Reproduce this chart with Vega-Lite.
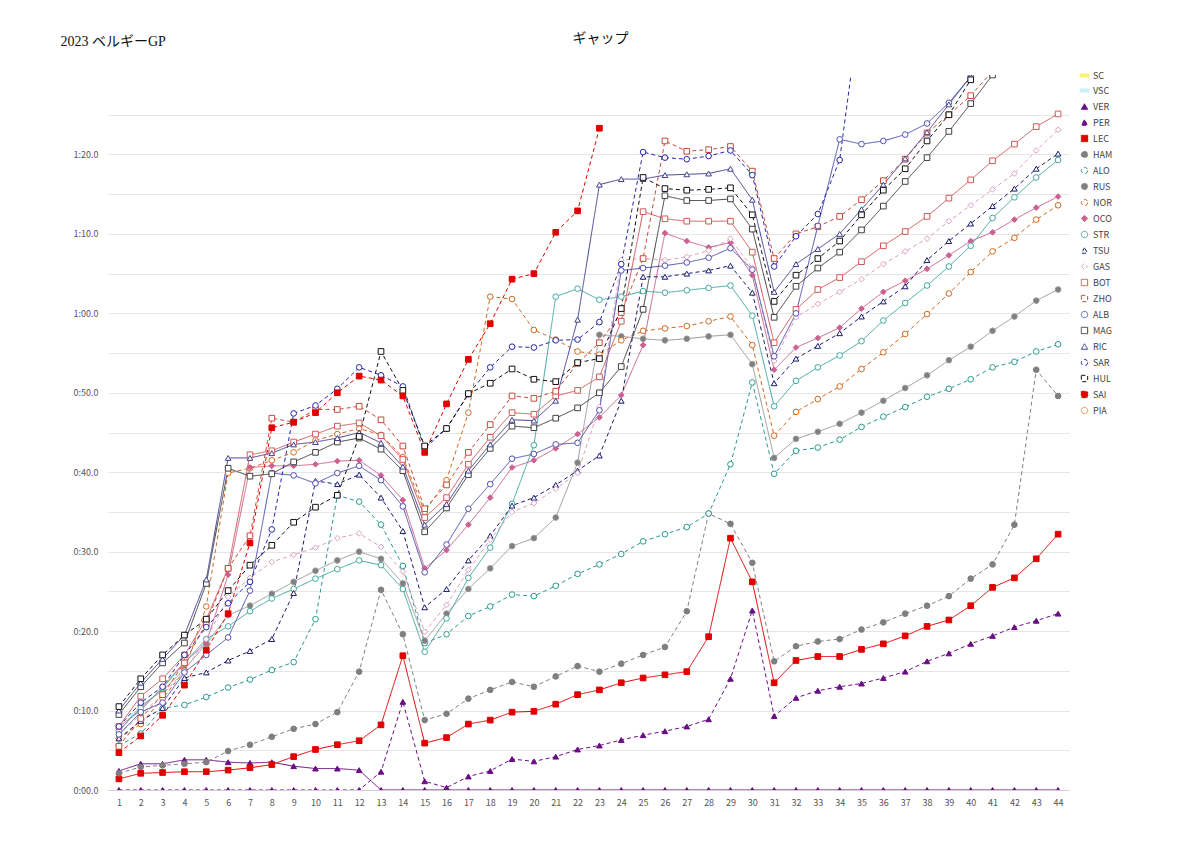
{
  "$schema": "https://vega.github.io/schema/vega-lite/v6.json",
  "autosize": "none",
  "width": 961,
  "height": 715,
  "padding": {"left": 108, "top": 75, "right": 131, "bottom": 59},
  "title": {"text": "ギャップ", "anchor": "middle", "dx": 12, "offset": -12, "font": "Liberation Serif, Noto Sans CJK JP", "fontSize": 14, "fontWeight": "normal", "color": "#111"},
  "config": {
    "view": {"stroke": null},
    "font": "Noto Sans CJK JP",
    "axis": {"labelFontSize": 9, "labelColor": "#555", "domainColor": "#d0d0d0", "tickColor": "#d0d0d0", "gridColor": "#e6e6e6"}
  },
  "datasets": {
    "gap": [
{"d":"VER","l":1,"v":2.4},{"d":"VER","l":2,"v":3.3},{"d":"VER","l":3,"v":3.3},{"d":"VER","l":4,"v":3.8},{"d":"VER","l":5,"v":3.8},{"d":"VER","l":6,"v":3.5},{"d":"VER","l":7,"v":3.4},{"d":"VER","l":8,"v":3.5},{"d":"VER","l":9,"v":3.0},{"d":"VER","l":10,"v":2.7},{"d":"VER","l":11,"v":2.7},{"d":"VER","l":12,"v":2.5},{"d":"VER","l":13,"v":0},{"d":"VER","l":14,"v":0},{"d":"VER","l":15,"v":0},{"d":"VER","l":16,"v":0},{"d":"VER","l":17,"v":0},{"d":"VER","l":18,"v":0},{"d":"VER","l":19,"v":0},{"d":"VER","l":20,"v":0},{"d":"VER","l":21,"v":0},{"d":"VER","l":22,"v":0},{"d":"VER","l":23,"v":0},{"d":"VER","l":24,"v":0},{"d":"VER","l":25,"v":0},{"d":"VER","l":26,"v":0},{"d":"VER","l":27,"v":0},{"d":"VER","l":28,"v":0},{"d":"VER","l":29,"v":0},{"d":"VER","l":30,"v":0},{"d":"VER","l":31,"v":0},{"d":"VER","l":32,"v":0},{"d":"VER","l":33,"v":0},{"d":"VER","l":34,"v":0},{"d":"VER","l":35,"v":0},{"d":"VER","l":36,"v":0},{"d":"VER","l":37,"v":0},{"d":"VER","l":38,"v":0},{"d":"VER","l":39,"v":0},{"d":"VER","l":40,"v":0},{"d":"VER","l":41,"v":0},{"d":"VER","l":42,"v":0},{"d":"VER","l":43,"v":0},{"d":"VER","l":44,"v":0},
{"d":"PER","l":1,"v":0},{"d":"PER","l":2,"v":0},{"d":"PER","l":3,"v":0},{"d":"PER","l":4,"v":0},{"d":"PER","l":5,"v":0},{"d":"PER","l":6,"v":0},{"d":"PER","l":7,"v":0},{"d":"PER","l":8,"v":0},{"d":"PER","l":9,"v":0},{"d":"PER","l":10,"v":0},{"d":"PER","l":11,"v":0},{"d":"PER","l":12,"v":0},{"d":"PER","l":13,"v":2.3},{"d":"PER","l":14,"v":11.1},{"d":"PER","l":15,"v":1.1},{"d":"PER","l":16,"v":0.3},{"d":"PER","l":17,"v":1.7},{"d":"PER","l":18,"v":2.4},{"d":"PER","l":19,"v":3.9},{"d":"PER","l":20,"v":3.6},{"d":"PER","l":21,"v":4.2},{"d":"PER","l":22,"v":5.1},{"d":"PER","l":23,"v":5.6},{"d":"PER","l":24,"v":6.3},{"d":"PER","l":25,"v":6.9},{"d":"PER","l":26,"v":7.4},{"d":"PER","l":27,"v":8.0},{"d":"PER","l":28,"v":8.9},{"d":"PER","l":29,"v":14.0},{"d":"PER","l":30,"v":22.6},{"d":"PER","l":31,"v":9.3},{"d":"PER","l":32,"v":11.6},{"d":"PER","l":33,"v":12.5},{"d":"PER","l":34,"v":13.0},{"d":"PER","l":35,"v":13.4},{"d":"PER","l":36,"v":14.1},{"d":"PER","l":37,"v":14.9},{"d":"PER","l":38,"v":16.2},{"d":"PER","l":39,"v":17.2},{"d":"PER","l":40,"v":18.4},{"d":"PER","l":41,"v":19.4},{"d":"PER","l":42,"v":20.5},{"d":"PER","l":43,"v":21.3},{"d":"PER","l":44,"v":22.2},
{"d":"LEC","l":1,"v":1.4},{"d":"LEC","l":2,"v":2.1},{"d":"LEC","l":3,"v":2.2},{"d":"LEC","l":4,"v":2.3},{"d":"LEC","l":5,"v":2.3},{"d":"LEC","l":6,"v":2.5},{"d":"LEC","l":7,"v":2.8},{"d":"LEC","l":8,"v":3.2},{"d":"LEC","l":9,"v":4.2},{"d":"LEC","l":10,"v":5.1},{"d":"LEC","l":11,"v":5.7},{"d":"LEC","l":12,"v":6.2},{"d":"LEC","l":13,"v":8.2},{"d":"LEC","l":14,"v":16.9},{"d":"LEC","l":15,"v":5.9},{"d":"LEC","l":16,"v":6.6},{"d":"LEC","l":17,"v":8.3},{"d":"LEC","l":18,"v":8.8},{"d":"LEC","l":19,"v":9.8},{"d":"LEC","l":20,"v":9.9},{"d":"LEC","l":21,"v":10.8},{"d":"LEC","l":22,"v":12.0},{"d":"LEC","l":23,"v":12.6},{"d":"LEC","l":24,"v":13.5},{"d":"LEC","l":25,"v":14.1},{"d":"LEC","l":26,"v":14.5},{"d":"LEC","l":27,"v":14.9},{"d":"LEC","l":28,"v":19.3},{"d":"LEC","l":29,"v":31.7},{"d":"LEC","l":30,"v":26.2},{"d":"LEC","l":31,"v":13.5},{"d":"LEC","l":32,"v":16.3},{"d":"LEC","l":33,"v":16.8},{"d":"LEC","l":34,"v":16.8},{"d":"LEC","l":35,"v":17.7},{"d":"LEC","l":36,"v":18.4},{"d":"LEC","l":37,"v":19.4},{"d":"LEC","l":38,"v":20.6},{"d":"LEC","l":39,"v":21.4},{"d":"LEC","l":40,"v":23.2},{"d":"LEC","l":41,"v":25.5},{"d":"LEC","l":42,"v":26.7},{"d":"LEC","l":43,"v":29.1},{"d":"LEC","l":44,"v":32.2},
{"d":"HAM","l":1,"v":2.1},{"d":"HAM","l":2,"v":2.9},{"d":"HAM","l":3,"v":3.1},{"d":"HAM","l":4,"v":3.3},{"d":"HAM","l":5,"v":3.5},{"d":"HAM","l":6,"v":4.9},{"d":"HAM","l":7,"v":5.7},{"d":"HAM","l":8,"v":6.7},{"d":"HAM","l":9,"v":7.7},{"d":"HAM","l":10,"v":8.3},{"d":"HAM","l":11,"v":9.8},{"d":"HAM","l":12,"v":14.9},{"d":"HAM","l":13,"v":25.2},{"d":"HAM","l":14,"v":19.6},{"d":"HAM","l":15,"v":8.8},{"d":"HAM","l":16,"v":9.6},{"d":"HAM","l":17,"v":11.5},{"d":"HAM","l":18,"v":12.6},{"d":"HAM","l":19,"v":13.6},{"d":"HAM","l":20,"v":13.0},{"d":"HAM","l":21,"v":14.3},{"d":"HAM","l":22,"v":15.6},{"d":"HAM","l":23,"v":14.9},{"d":"HAM","l":24,"v":15.9},{"d":"HAM","l":25,"v":17.0},{"d":"HAM","l":26,"v":18.0},{"d":"HAM","l":27,"v":22.5},{"d":"HAM","l":28,"v":34.8},{"d":"HAM","l":29,"v":33.5},{"d":"HAM","l":30,"v":28.6},{"d":"HAM","l":31,"v":16.2},{"d":"HAM","l":32,"v":18.1},{"d":"HAM","l":33,"v":18.7},{"d":"HAM","l":34,"v":19.0},{"d":"HAM","l":35,"v":20.2},{"d":"HAM","l":36,"v":21.1},{"d":"HAM","l":37,"v":22.2},{"d":"HAM","l":38,"v":23.2},{"d":"HAM","l":39,"v":24.4},{"d":"HAM","l":40,"v":26.6},{"d":"HAM","l":41,"v":28.4},{"d":"HAM","l":42,"v":33.4},{"d":"HAM","l":43,"v":52.9},{"d":"HAM","l":44,"v":49.6},
{"d":"ALO","l":1,"v":5.6},{"d":"ALO","l":2,"v":7.1},{"d":"ALO","l":3,"v":10.3},{"d":"ALO","l":4,"v":10.7},{"d":"ALO","l":5,"v":11.7},{"d":"ALO","l":6,"v":12.9},{"d":"ALO","l":7,"v":13.9},{"d":"ALO","l":8,"v":15.1},{"d":"ALO","l":9,"v":16.1},{"d":"ALO","l":10,"v":21.5},{"d":"ALO","l":11,"v":37.1},{"d":"ALO","l":12,"v":36.3},{"d":"ALO","l":13,"v":33.4},{"d":"ALO","l":14,"v":28.2},{"d":"ALO","l":15,"v":18.5},{"d":"ALO","l":16,"v":19.6},{"d":"ALO","l":17,"v":21.9},{"d":"ALO","l":18,"v":23.1},{"d":"ALO","l":19,"v":24.6},{"d":"ALO","l":20,"v":24.4},{"d":"ALO","l":21,"v":25.7},{"d":"ALO","l":22,"v":27.2},{"d":"ALO","l":23,"v":28.4},{"d":"ALO","l":24,"v":29.7},{"d":"ALO","l":25,"v":31.3},{"d":"ALO","l":26,"v":32.2},{"d":"ALO","l":27,"v":33.1},{"d":"ALO","l":28,"v":34.8},{"d":"ALO","l":29,"v":41.0},{"d":"ALO","l":30,"v":51.3},{"d":"ALO","l":31,"v":39.8},{"d":"ALO","l":32,"v":42.7},{"d":"ALO","l":33,"v":43.1},{"d":"ALO","l":34,"v":44.1},{"d":"ALO","l":35,"v":45.7},{"d":"ALO","l":36,"v":47.0},{"d":"ALO","l":37,"v":48.2},{"d":"ALO","l":38,"v":49.5},{"d":"ALO","l":39,"v":50.5},{"d":"ALO","l":40,"v":51.7},{"d":"ALO","l":41,"v":53.2},{"d":"ALO","l":42,"v":53.9},{"d":"ALO","l":43,"v":55.2},{"d":"ALO","l":44,"v":56.1},
{"d":"RUS","l":1,"v":7.4},{"d":"RUS","l":2,"v":10.6},{"d":"RUS","l":3,"v":12.5},{"d":"RUS","l":4,"v":15.2},{"d":"RUS","l":5,"v":18.4},{"d":"RUS","l":6,"v":22.0},{"d":"RUS","l":7,"v":23.2},{"d":"RUS","l":8,"v":24.7},{"d":"RUS","l":9,"v":26.2},{"d":"RUS","l":10,"v":27.6},{"d":"RUS","l":11,"v":28.9},{"d":"RUS","l":12,"v":30.0},{"d":"RUS","l":13,"v":29.1},{"d":"RUS","l":14,"v":26.0},{"d":"RUS","l":15,"v":18.8},{"d":"RUS","l":16,"v":22.2},{"d":"RUS","l":17,"v":25.3},{"d":"RUS","l":18,"v":27.9},{"d":"RUS","l":19,"v":30.7},{"d":"RUS","l":20,"v":31.7},{"d":"RUS","l":21,"v":34.3},{"d":"RUS","l":22,"v":41.2},{"d":"RUS","l":23,"v":57.3},{"d":"RUS","l":24,"v":57.1},{"d":"RUS","l":25,"v":56.8},{"d":"RUS","l":26,"v":56.6},{"d":"RUS","l":27,"v":56.8},{"d":"RUS","l":28,"v":57.1},{"d":"RUS","l":29,"v":57.3},{"d":"RUS","l":30,"v":53.6},{"d":"RUS","l":31,"v":41.8},{"d":"RUS","l":32,"v":44.2},{"d":"RUS","l":33,"v":45.1},{"d":"RUS","l":34,"v":46.1},{"d":"RUS","l":35,"v":47.5},{"d":"RUS","l":36,"v":49.0},{"d":"RUS","l":37,"v":50.6},{"d":"RUS","l":38,"v":52.2},{"d":"RUS","l":39,"v":54.1},{"d":"RUS","l":40,"v":55.8},{"d":"RUS","l":41,"v":57.8},{"d":"RUS","l":42,"v":59.6},{"d":"RUS","l":43,"v":61.6},{"d":"RUS","l":44,"v":63.0},
{"d":"NOR","l":1,"v":6.5},{"d":"NOR","l":2,"v":8.3},{"d":"NOR","l":3,"v":11.5},{"d":"NOR","l":4,"v":15.0},{"d":"NOR","l":5,"v":23.1},{"d":"NOR","l":6,"v":39.9},{"d":"NOR","l":7,"v":40.5},{"d":"NOR","l":8,"v":41.5},{"d":"NOR","l":9,"v":42.5},{"d":"NOR","l":10,"v":44.0},{"d":"NOR","l":11,"v":44.8},{"d":"NOR","l":12,"v":45.5},{"d":"NOR","l":13,"v":44.7},{"d":"NOR","l":14,"v":41.9},{"d":"NOR","l":15,"v":35.0},{"d":"NOR","l":16,"v":39.0},{"d":"NOR","l":17,"v":47.5},{"d":"NOR","l":18,"v":62.1},{"d":"NOR","l":19,"v":61.8},{"d":"NOR","l":20,"v":57.9},{"d":"NOR","l":21,"v":56.7},{"d":"NOR","l":22,"v":55.2},{"d":"NOR","l":23,"v":54.8},{"d":"NOR","l":24,"v":56.6},{"d":"NOR","l":25,"v":57.8},{"d":"NOR","l":26,"v":58.1},{"d":"NOR","l":27,"v":58.4},{"d":"NOR","l":28,"v":59.0},{"d":"NOR","l":29,"v":59.6},{"d":"NOR","l":30,"v":56.0},{"d":"NOR","l":31,"v":44.6},{"d":"NOR","l":32,"v":47.6},{"d":"NOR","l":33,"v":49.2},{"d":"NOR","l":34,"v":50.8},{"d":"NOR","l":35,"v":53.0},{"d":"NOR","l":36,"v":55.1},{"d":"NOR","l":37,"v":57.4},{"d":"NOR","l":38,"v":59.9},{"d":"NOR","l":39,"v":62.5},{"d":"NOR","l":40,"v":65.2},{"d":"NOR","l":41,"v":67.8},{"d":"NOR","l":42,"v":69.5},{"d":"NOR","l":43,"v":71.8},{"d":"NOR","l":44,"v":73.6},
{"d":"OCO","l":1,"v":8.0},{"d":"OCO","l":2,"v":10.0},{"d":"OCO","l":3,"v":13.0},{"d":"OCO","l":4,"v":16.1},{"d":"OCO","l":5,"v":18.5},{"d":"OCO","l":6,"v":27.1},{"d":"OCO","l":7,"v":40.6},{"d":"OCO","l":8,"v":40.8},{"d":"OCO","l":9,"v":40.8},{"d":"OCO","l":10,"v":41.0},{"d":"OCO","l":11,"v":41.4},{"d":"OCO","l":12,"v":41.5},{"d":"OCO","l":13,"v":39.6},{"d":"OCO","l":14,"v":36.5},{"d":"OCO","l":15,"v":27.9},{"d":"OCO","l":16,"v":30.2},{"d":"OCO","l":17,"v":33.4},{"d":"OCO","l":18,"v":36.8},{"d":"OCO","l":19,"v":40.6},{"d":"OCO","l":20,"v":41.5},{"d":"OCO","l":21,"v":43.0},{"d":"OCO","l":22,"v":44.8},{"d":"OCO","l":23,"v":46.9},{"d":"OCO","l":24,"v":49.7},{"d":"OCO","l":25,"v":56.0},{"d":"OCO","l":26,"v":70.1},{"d":"OCO","l":27,"v":69.1},{"d":"OCO","l":28,"v":68.3},{"d":"OCO","l":29,"v":68.9},{"d":"OCO","l":30,"v":64.8},{"d":"OCO","l":31,"v":52.9},{"d":"OCO","l":32,"v":55.7},{"d":"OCO","l":33,"v":56.9},{"d":"OCO","l":34,"v":58.2},{"d":"OCO","l":35,"v":60.6},{"d":"OCO","l":36,"v":62.7},{"d":"OCO","l":37,"v":64.1},{"d":"OCO","l":38,"v":65.6},{"d":"OCO","l":39,"v":67.3},{"d":"OCO","l":40,"v":69.1},{"d":"OCO","l":41,"v":70.2},{"d":"OCO","l":42,"v":71.8},{"d":"OCO","l":43,"v":73.3},{"d":"OCO","l":44,"v":74.7},
{"d":"STR","l":1,"v":7.5},{"d":"STR","l":2,"v":10.3},{"d":"STR","l":3,"v":12.8},{"d":"STR","l":4,"v":16.0},{"d":"STR","l":5,"v":19.0},{"d":"STR","l":6,"v":20.6},{"d":"STR","l":7,"v":22.5},{"d":"STR","l":8,"v":24.1},{"d":"STR","l":9,"v":25.3},{"d":"STR","l":10,"v":26.6},{"d":"STR","l":11,"v":27.8},{"d":"STR","l":12,"v":28.9},{"d":"STR","l":13,"v":28.3},{"d":"STR","l":14,"v":25.3},{"d":"STR","l":15,"v":17.4},{"d":"STR","l":16,"v":21.6},{"d":"STR","l":17,"v":26.7},{"d":"STR","l":18,"v":30.5},{"d":"STR","l":19,"v":36.0},{"d":"STR","l":20,"v":43.4},{"d":"STR","l":21,"v":62.1},{"d":"STR","l":22,"v":63.1},{"d":"STR","l":23,"v":61.7},{"d":"STR","l":24,"v":62.1},{"d":"STR","l":25,"v":62.8},{"d":"STR","l":26,"v":62.6},{"d":"STR","l":27,"v":62.9},{"d":"STR","l":28,"v":63.2},{"d":"STR","l":29,"v":63.5},{"d":"STR","l":30,"v":59.7},{"d":"STR","l":31,"v":48.3},{"d":"STR","l":32,"v":51.5},{"d":"STR","l":33,"v":53.2},{"d":"STR","l":34,"v":54.7},{"d":"STR","l":35,"v":56.5},{"d":"STR","l":36,"v":59.1},{"d":"STR","l":37,"v":61.3},{"d":"STR","l":38,"v":63.5},{"d":"STR","l":39,"v":65.9},{"d":"STR","l":40,"v":68.5},{"d":"STR","l":41,"v":72.0},{"d":"STR","l":42,"v":74.6},{"d":"STR","l":43,"v":77.1},{"d":"STR","l":44,"v":79.3},
{"d":"TSU","l":1,"v":6.5},{"d":"TSU","l":2,"v":8.7},{"d":"TSU","l":3,"v":10.3},{"d":"TSU","l":4,"v":14.1},{"d":"TSU","l":5,"v":14.8},{"d":"TSU","l":6,"v":16.3},{"d":"TSU","l":7,"v":17.5},{"d":"TSU","l":8,"v":19.0},{"d":"TSU","l":9,"v":24.8},{"d":"TSU","l":10,"v":38.9},{"d":"TSU","l":11,"v":38.5},{"d":"TSU","l":12,"v":39.7},{"d":"TSU","l":13,"v":36.8},{"d":"TSU","l":14,"v":32.6},{"d":"TSU","l":15,"v":23.0},{"d":"TSU","l":16,"v":25.3},{"d":"TSU","l":17,"v":28.9},{"d":"TSU","l":18,"v":32.0},{"d":"TSU","l":19,"v":35.8},{"d":"TSU","l":20,"v":36.8},{"d":"TSU","l":21,"v":38.4},{"d":"TSU","l":22,"v":40.2},{"d":"TSU","l":23,"v":42.1},{"d":"TSU","l":24,"v":49.0},{"d":"TSU","l":25,"v":64.6},{"d":"TSU","l":26,"v":64.6},{"d":"TSU","l":27,"v":65.0},{"d":"TSU","l":28,"v":65.4},{"d":"TSU","l":29,"v":66.0},{"d":"TSU","l":30,"v":62.6},{"d":"TSU","l":31,"v":51.2},{"d":"TSU","l":32,"v":54.3},{"d":"TSU","l":33,"v":55.9},{"d":"TSU","l":34,"v":57.5},{"d":"TSU","l":35,"v":59.6},{"d":"TSU","l":36,"v":61.5},{"d":"TSU","l":37,"v":63.4},{"d":"TSU","l":38,"v":66.7},{"d":"TSU","l":39,"v":69.1},{"d":"TSU","l":40,"v":71.3},{"d":"TSU","l":41,"v":73.5},{"d":"TSU","l":42,"v":75.7},{"d":"TSU","l":43,"v":78.2},{"d":"TSU","l":44,"v":80.1},
{"d":"GAS","l":1,"v":7.0},{"d":"GAS","l":2,"v":9.5},{"d":"GAS","l":3,"v":12.0},{"d":"GAS","l":4,"v":15.0},{"d":"GAS","l":5,"v":19.0},{"d":"GAS","l":6,"v":24.3},{"d":"GAS","l":7,"v":26.7},{"d":"GAS","l":8,"v":28.7},{"d":"GAS","l":9,"v":29.6},{"d":"GAS","l":10,"v":30.5},{"d":"GAS","l":11,"v":31.7},{"d":"GAS","l":12,"v":32.3},{"d":"GAS","l":13,"v":30.6},{"d":"GAS","l":14,"v":27.5},{"d":"GAS","l":15,"v":19.9},{"d":"GAS","l":16,"v":23.3},{"d":"GAS","l":17,"v":27.7},{"d":"GAS","l":18,"v":31.5},{"d":"GAS","l":19,"v":35.0},{"d":"GAS","l":20,"v":36.1},{"d":"GAS","l":21,"v":37.9},{"d":"GAS","l":22,"v":39.9},{"d":"GAS","l":23,"v":48.2},{"d":"GAS","l":24,"v":66.7},{"d":"GAS","l":25,"v":66.9},{"d":"GAS","l":26,"v":66.7},{"d":"GAS","l":27,"v":67.1},{"d":"GAS","l":28,"v":67.9},{"d":"GAS","l":29,"v":69.4},{"d":"GAS","l":30,"v":65.7},{"d":"GAS","l":31,"v":54.0},{"d":"GAS","l":32,"v":59.5},{"d":"GAS","l":33,"v":61.2},{"d":"GAS","l":34,"v":62.7},{"d":"GAS","l":35,"v":64.3},{"d":"GAS","l":36,"v":66.2},{"d":"GAS","l":37,"v":67.8},{"d":"GAS","l":38,"v":69.4},{"d":"GAS","l":39,"v":71.6},{"d":"GAS","l":40,"v":73.6},{"d":"GAS","l":41,"v":75.6},{"d":"GAS","l":42,"v":77.6},{"d":"GAS","l":43,"v":80.5},{"d":"GAS","l":44,"v":83.1},
{"d":"BOT","l":1,"v":8.0},{"d":"BOT","l":2,"v":11.8},{"d":"BOT","l":3,"v":14.0},{"d":"BOT","l":4,"v":17.0},{"d":"BOT","l":5,"v":21.5},{"d":"BOT","l":6,"v":27.9},{"d":"BOT","l":7,"v":42.2},{"d":"BOT","l":8,"v":42.7},{"d":"BOT","l":9,"v":43.8},{"d":"BOT","l":10,"v":44.8},{"d":"BOT","l":11,"v":45.8},{"d":"BOT","l":12,"v":46.2},{"d":"BOT","l":13,"v":44.6},{"d":"BOT","l":14,"v":41.6},{"d":"BOT","l":15,"v":34.3},{"d":"BOT","l":16,"v":36.8},{"d":"BOT","l":17,"v":41.0},{"d":"BOT","l":18,"v":44.4},{"d":"BOT","l":19,"v":47.5},{"d":"BOT","l":20,"v":47.3},{"d":"BOT","l":21,"v":49.6},{"d":"BOT","l":22,"v":50.3},{"d":"BOT","l":23,"v":52.0},{"d":"BOT","l":24,"v":59.0},{"d":"BOT","l":25,"v":72.8},{"d":"BOT","l":26,"v":71.9},{"d":"BOT","l":27,"v":71.6},{"d":"BOT","l":28,"v":71.6},{"d":"BOT","l":29,"v":71.6},{"d":"BOT","l":30,"v":67.7},{"d":"BOT","l":31,"v":56.3},{"d":"BOT","l":32,"v":60.5},{"d":"BOT","l":33,"v":63.0},{"d":"BOT","l":34,"v":64.5},{"d":"BOT","l":35,"v":66.5},{"d":"BOT","l":36,"v":68.5},{"d":"BOT","l":37,"v":70.3},{"d":"BOT","l":38,"v":72.2},{"d":"BOT","l":39,"v":74.5},{"d":"BOT","l":40,"v":76.8},{"d":"BOT","l":41,"v":79.2},{"d":"BOT","l":42,"v":81.3},{"d":"BOT","l":43,"v":83.5},{"d":"BOT","l":44,"v":85.1},
{"d":"ZHO","l":1,"v":5.5},{"d":"ZHO","l":2,"v":9.0},{"d":"ZHO","l":3,"v":12.0},{"d":"ZHO","l":4,"v":16.0},{"d":"ZHO","l":5,"v":21.0},{"d":"ZHO","l":6,"v":27.9},{"d":"ZHO","l":7,"v":32.0},{"d":"ZHO","l":8,"v":46.8},{"d":"ZHO","l":9,"v":46.3},{"d":"ZHO","l":10,"v":47.9},{"d":"ZHO","l":11,"v":47.9},{"d":"ZHO","l":12,"v":48.3},{"d":"ZHO","l":13,"v":46.6},{"d":"ZHO","l":14,"v":43.3},{"d":"ZHO","l":15,"v":35.4},{"d":"ZHO","l":16,"v":38.4},{"d":"ZHO","l":17,"v":42.5},{"d":"ZHO","l":18,"v":46.0},{"d":"ZHO","l":19,"v":49.6},{"d":"ZHO","l":20,"v":49.3},{"d":"ZHO","l":21,"v":50.2},{"d":"ZHO","l":22,"v":53.7},{"d":"ZHO","l":23,"v":56.3},{"d":"ZHO","l":24,"v":60.1},{"d":"ZHO","l":25,"v":66.9},{"d":"ZHO","l":26,"v":81.7},{"d":"ZHO","l":27,"v":80.4},{"d":"ZHO","l":28,"v":80.6},{"d":"ZHO","l":29,"v":81.0},{"d":"ZHO","l":30,"v":77.9},{"d":"ZHO","l":31,"v":66.9},{"d":"ZHO","l":32,"v":70.0},{"d":"ZHO","l":33,"v":70.9},{"d":"ZHO","l":34,"v":72.2},{"d":"ZHO","l":35,"v":74.3},{"d":"ZHO","l":36,"v":76.7},{"d":"ZHO","l":37,"v":79.4},{"d":"ZHO","l":38,"v":82.7},{"d":"ZHO","l":39,"v":85.0},{"d":"ZHO","l":40,"v":87.4},{"d":"ZHO","l":41,"v":90.5},{"d":"ZHO","l":42,"v":93},{"d":"ZHO","l":43,"v":95},{"d":"ZHO","l":44,"v":97},
{"d":"ALB","l":1,"v":7.0},{"d":"ALB","l":2,"v":9.8},{"d":"ALB","l":3,"v":11.0},{"d":"ALB","l":4,"v":14.8},{"d":"ALB","l":5,"v":17.0},{"d":"ALB","l":6,"v":19.2},{"d":"ALB","l":7,"v":25.1},{"d":"ALB","l":8,"v":39.9},{"d":"ALB","l":9,"v":39.6},{"d":"ALB","l":10,"v":38.6},{"d":"ALB","l":11,"v":39.9},{"d":"ALB","l":12,"v":40.8},{"d":"ALB","l":13,"v":39.0},{"d":"ALB","l":14,"v":35.7},{"d":"ALB","l":15,"v":27.4},{"d":"ALB","l":16,"v":30.9},{"d":"ALB","l":17,"v":35.4},{"d":"ALB","l":18,"v":38.5},{"d":"ALB","l":19,"v":41.7},{"d":"ALB","l":20,"v":42.3},{"d":"ALB","l":21,"v":43.5},{"d":"ALB","l":22,"v":43.7},{"d":"ALB","l":23,"v":47.8},{"d":"ALB","l":24,"v":65.4},{"d":"ALB","l":25,"v":65.7},{"d":"ALB","l":26,"v":66.0},{"d":"ALB","l":27,"v":66.4},{"d":"ALB","l":28,"v":67.0},{"d":"ALB","l":29,"v":68.2},{"d":"ALB","l":30,"v":65.5},{"d":"ALB","l":31,"v":54.6},{"d":"ALB","l":32,"v":60.0},{"d":"ALB","l":33,"v":71.0},{"d":"ALB","l":34,"v":81.9},{"d":"ALB","l":35,"v":81.3},{"d":"ALB","l":36,"v":81.7},{"d":"ALB","l":37,"v":82.5},{"d":"ALB","l":38,"v":83.9},{"d":"ALB","l":39,"v":86.5},{"d":"ALB","l":40,"v":89.8},{"d":"ALB","l":41,"v":93},{"d":"ALB","l":42,"v":96},{"d":"ALB","l":43,"v":99},{"d":"ALB","l":44,"v":102},
{"d":"MAG","l":1,"v":9.5},{"d":"MAG","l":2,"v":13.0},{"d":"MAG","l":3,"v":16.0},{"d":"MAG","l":4,"v":18.5},{"d":"MAG","l":5,"v":26.0},{"d":"MAG","l":6,"v":40.5},{"d":"MAG","l":7,"v":39.5},{"d":"MAG","l":8,"v":39.8},{"d":"MAG","l":9,"v":41.3},{"d":"MAG","l":10,"v":42.5},{"d":"MAG","l":11,"v":43.8},{"d":"MAG","l":12,"v":44.3},{"d":"MAG","l":13,"v":42.9},{"d":"MAG","l":14,"v":40.2},{"d":"MAG","l":15,"v":32.5},{"d":"MAG","l":16,"v":35.5},{"d":"MAG","l":17,"v":39.7},{"d":"MAG","l":18,"v":43.0},{"d":"MAG","l":19,"v":45.8},{"d":"MAG","l":20,"v":45.6},{"d":"MAG","l":21,"v":46.8},{"d":"MAG","l":22,"v":48.1},{"d":"MAG","l":23,"v":50.0},{"d":"MAG","l":24,"v":53.3},{"d":"MAG","l":25,"v":60.5},{"d":"MAG","l":26,"v":74.8},{"d":"MAG","l":27,"v":74.2},{"d":"MAG","l":28,"v":74.2},{"d":"MAG","l":29,"v":74.4},{"d":"MAG","l":30,"v":70.6},{"d":"MAG","l":31,"v":59.5},{"d":"MAG","l":32,"v":63.4},{"d":"MAG","l":33,"v":65.7},{"d":"MAG","l":34,"v":67.7},{"d":"MAG","l":35,"v":70.5},{"d":"MAG","l":36,"v":73.5},{"d":"MAG","l":37,"v":76.6},{"d":"MAG","l":38,"v":79.6},{"d":"MAG","l":39,"v":82.9},{"d":"MAG","l":40,"v":86.4},{"d":"MAG","l":41,"v":90.0},{"d":"MAG","l":42,"v":93},{"d":"MAG","l":43,"v":96},{"d":"MAG","l":44,"v":99},
{"d":"RIC","l":1,"v":10.0},{"d":"RIC","l":2,"v":13.5},{"d":"RIC","l":3,"v":16.5},{"d":"RIC","l":4,"v":19.5},{"d":"RIC","l":5,"v":26.5},{"d":"RIC","l":6,"v":41.8},{"d":"RIC","l":7,"v":41.8},{"d":"RIC","l":8,"v":42.4},{"d":"RIC","l":9,"v":43.5},{"d":"RIC","l":10,"v":43.8},{"d":"RIC","l":11,"v":44.3},{"d":"RIC","l":12,"v":45.0},{"d":"RIC","l":13,"v":43.7},{"d":"RIC","l":14,"v":40.7},{"d":"RIC","l":15,"v":33.4},{"d":"RIC","l":16,"v":36.0},{"d":"RIC","l":17,"v":40.2},{"d":"RIC","l":18,"v":43.5},{"d":"RIC","l":19,"v":46.6},{"d":"RIC","l":20,"v":46.5},{"d":"RIC","l":21,"v":49.0},{"d":"RIC","l":22,"v":59.2},{"d":"RIC","l":23,"v":76.2},{"d":"RIC","l":24,"v":76.9},{"d":"RIC","l":25,"v":76.9},{"d":"RIC","l":26,"v":77.4},{"d":"RIC","l":27,"v":77.5},{"d":"RIC","l":28,"v":77.6},{"d":"RIC","l":29,"v":78.2},{"d":"RIC","l":30,"v":74.3},{"d":"RIC","l":31,"v":62.7},{"d":"RIC","l":32,"v":66.2},{"d":"RIC","l":33,"v":68.1},{"d":"RIC","l":34,"v":70.0},{"d":"RIC","l":35,"v":73.1},{"d":"RIC","l":36,"v":76.2},{"d":"RIC","l":37,"v":79.5},{"d":"RIC","l":38,"v":82.8},{"d":"RIC","l":39,"v":86.3},{"d":"RIC","l":40,"v":89.8},{"d":"RIC","l":41,"v":93},{"d":"RIC","l":42,"v":96},{"d":"RIC","l":43,"v":99},{"d":"RIC","l":44,"v":102},
{"d":"SAR","l":1,"v":8.0},{"d":"SAR","l":2,"v":11.0},{"d":"SAR","l":3,"v":13.0},{"d":"SAR","l":4,"v":17.0},{"d":"SAR","l":5,"v":20.5},{"d":"SAR","l":6,"v":23.5},{"d":"SAR","l":7,"v":26.2},{"d":"SAR","l":8,"v":32.8},{"d":"SAR","l":9,"v":47.4},{"d":"SAR","l":10,"v":48.4},{"d":"SAR","l":11,"v":50.5},{"d":"SAR","l":12,"v":53.2},{"d":"SAR","l":13,"v":52.2},{"d":"SAR","l":14,"v":50.8},{"d":"SAR","l":15,"v":43.0},{"d":"SAR","l":16,"v":45.5},{"d":"SAR","l":17,"v":49.8},{"d":"SAR","l":18,"v":53.2},{"d":"SAR","l":19,"v":55.8},{"d":"SAR","l":20,"v":55.7},{"d":"SAR","l":21,"v":56.6},{"d":"SAR","l":22,"v":56.7},{"d":"SAR","l":23,"v":58.9},{"d":"SAR","l":24,"v":66.2},{"d":"SAR","l":25,"v":80.3},{"d":"SAR","l":26,"v":79.6},{"d":"SAR","l":27,"v":79.4},{"d":"SAR","l":28,"v":79.8},{"d":"SAR","l":29,"v":80.5},{"d":"SAR","l":30,"v":77.4},{"d":"SAR","l":31,"v":65.9},{"d":"SAR","l":32,"v":69.7},{"d":"SAR","l":33,"v":72.5},{"d":"SAR","l":34,"v":79.3},{"d":"SAR","l":35,"v":100},
{"d":"HUL","l":1,"v":10.5},{"d":"HUL","l":2,"v":14.0},{"d":"HUL","l":3,"v":17.0},{"d":"HUL","l":4,"v":19.5},{"d":"HUL","l":5,"v":21.5},{"d":"HUL","l":6,"v":25.1},{"d":"HUL","l":7,"v":28.3},{"d":"HUL","l":8,"v":30.8},{"d":"HUL","l":9,"v":33.7},{"d":"HUL","l":10,"v":35.6},{"d":"HUL","l":11,"v":37.1},{"d":"HUL","l":12,"v":44.5},{"d":"HUL","l":13,"v":55.2},{"d":"HUL","l":14,"v":50.3},{"d":"HUL","l":15,"v":43.3},{"d":"HUL","l":16,"v":45.5},{"d":"HUL","l":17,"v":49.9},{"d":"HUL","l":18,"v":51.2},{"d":"HUL","l":19,"v":53.0},{"d":"HUL","l":20,"v":51.7},{"d":"HUL","l":21,"v":51.4},{"d":"HUL","l":22,"v":53.8},{"d":"HUL","l":23,"v":54.3},{"d":"HUL","l":24,"v":60.6},{"d":"HUL","l":25,"v":77.1},{"d":"HUL","l":26,"v":75.7},{"d":"HUL","l":27,"v":75.5},{"d":"HUL","l":28,"v":75.6},{"d":"HUL","l":29,"v":75.8},{"d":"HUL","l":30,"v":72.4},{"d":"HUL","l":31,"v":61.5},{"d":"HUL","l":32,"v":64.8},{"d":"HUL","l":33,"v":66.9},{"d":"HUL","l":34,"v":69.1},{"d":"HUL","l":35,"v":72.4},{"d":"HUL","l":36,"v":75.5},{"d":"HUL","l":37,"v":78.2},{"d":"HUL","l":38,"v":81.7},{"d":"HUL","l":39,"v":85.0},{"d":"HUL","l":40,"v":89.4},{"d":"HUL","l":41,"v":93},{"d":"HUL","l":42,"v":96},{"d":"HUL","l":43,"v":99},{"d":"HUL","l":44,"v":102},
{"d":"SAI","l":1,"v":4.7},{"d":"SAI","l":2,"v":6.8},{"d":"SAI","l":3,"v":9.4},{"d":"SAI","l":4,"v":13.2},{"d":"SAI","l":5,"v":17.6},{"d":"SAI","l":6,"v":22.2},{"d":"SAI","l":7,"v":31.1},{"d":"SAI","l":8,"v":45.6},{"d":"SAI","l":9,"v":46.3},{"d":"SAI","l":10,"v":47.5},{"d":"SAI","l":11,"v":50.0},{"d":"SAI","l":12,"v":52.1},{"d":"SAI","l":13,"v":51.6},{"d":"SAI","l":14,"v":49.6},{"d":"SAI","l":15,"v":42.5},{"d":"SAI","l":16,"v":48.6},{"d":"SAI","l":17,"v":54.2},{"d":"SAI","l":18,"v":58.7},{"d":"SAI","l":19,"v":64.3},{"d":"SAI","l":20,"v":65.0},{"d":"SAI","l":21,"v":70.2},{"d":"SAI","l":22,"v":72.9},{"d":"SAI","l":23,"v":83.3}
    ]
  },
  "data": {"name": "gap"},
  "layer": [
    {
      "mark": {"type": "line", "strokeWidth": 1, "clip": true},
      "encoding": {
        "x": {"field": "l", "type": "ordinal", "scale": {"type": "point", "padding": 0.5, "domain": [1,2,3,4,5,6,7,8,9,10,11,12,13,14,15,16,17,18,19,20,21,22,23,24,25,26,27,28,29,30,31,32,33,34,35,36,37,38,39,40,41,42,43,44]}, "title": null, "axis": {"labelAngle": 0, "ticks": false, "labelPadding": 8}},
        "y": {"field": "v", "type": "quantitative", "scale": {"domain": [0, 90], "nice": false},
          "title": "2023 ベルギーGP",
          "axis": {"values": [0,5,10,15,20,25,30,35,40,45,50,55,60,65,70,75,80,85], "domain": false, "ticks": false, "labelPadding": 10,
            "titleAngle": 0, "titleX": -48, "titleY": -34, "titleAlign": "left", "titleBaseline": "middle", "titleFont": "Liberation Serif, Noto Sans CJK JP", "titleFontSize": 14, "titleFontWeight": "normal", "titleColor": "#111",
            "labelExpr": "datum.value % 10 != 0 ? '' : floor(datum.value/60) + ':' + (datum.value % 60 < 10 ? '0' : '') + format(datum.value % 60, '.1f')"}},
        "color": {"field": "d", "type": "nominal",
          "scale": {
            "domain": ["SC","VSC","VER","PER","LEC","HAM","ALO","RUS","NOR","OCO","STR","TSU","GAS","BOT","ZHO","ALB","MAG","RIC","SAR","HUL","SAI","PIA"],
            "range": ["#fff176","#cdeef2","#6a0d83","#6a0d83","#e00000","#7f7f7f","#2a9990","#9a9a9a","#d2691e","#cc6090","#40a8a0","#1a1a6e","#dba0c0","#d05858","#c84a3a","#5050b0","#404040","#404090","#2525a5","#111111","#e00000","#e09050"]
          },
          "legend": {"title": null, "orient": "none", "legendX": 972, "legendY": -4, "labelFontSize": 9, "labelColor": "#444", "rowPadding": 5, "symbolSize": 40, "symbolStrokeWidth": 1}},
        "strokeDash": {"field": "d", "type": "nominal",
          "scale": {
            "domain": ["SC","VSC","VER","PER","LEC","HAM","ALO","RUS","NOR","OCO","STR","TSU","GAS","BOT","ZHO","ALB","MAG","RIC","SAR","HUL","SAI","PIA"],
            "range": [[1,0],[1,0],[1,0],[4,3],[1,0],[4,3],[4,3],[1,0],[4,3],[1,0],[1,0],[4,3],[4,3],[1,0],[4,3],[1,0],[1,0],[1,0],[4,3],[4,3],[4,3],[1,0]]
          }, "legend": null}
      }
    },
    {
      "mark": {"type": "point", "size": 32, "strokeWidth": 1, "opacity": 1, "clip": true},
      "encoding": {
        "x": {"field": "l", "type": "ordinal"},
        "y": {"field": "v", "type": "quantitative"},
        "color": {"field": "d", "type": "nominal"},
        "shape": {"field": "d", "type": "nominal",
          "scale": {
            "domain": ["SC","VSC","VER","PER","LEC","HAM","ALO","RUS","NOR","OCO","STR","TSU","GAS","BOT","ZHO","ALB","MAG","RIC","SAR","HUL","SAI","PIA"],
            "range": ["M-1.4,-0.5H1.4V0.5H-1.4Z","M-1.4,-0.5H1.4V0.5H-1.4Z","triangle-up","triangle-up","square","circle","circle","circle","circle","diamond","circle","triangle-up","diamond","square","square","circle","square","triangle-up","circle","square","square","circle"]
          }},
        "fill": {"field": "d", "type": "nominal",
          "scale": {
            "domain": ["SC","VSC","VER","PER","LEC","HAM","ALO","RUS","NOR","OCO","STR","TSU","GAS","BOT","ZHO","ALB","MAG","RIC","SAR","HUL","SAI","PIA"],
            "range": ["#fff176","#cdeef2","#6a0d83","#6a0d83","#e00000","#7f7f7f","#ffffff","#7f7f7f","#ffffff","#cc6090","#ffffff","#ffffff","#ffffff","#ffffff","#ffffff","#ffffff","#ffffff","#ffffff","#ffffff","#ffffff","#e00000","#ffffff"]
          }, "legend": null}
      }
    }
  ]
}
